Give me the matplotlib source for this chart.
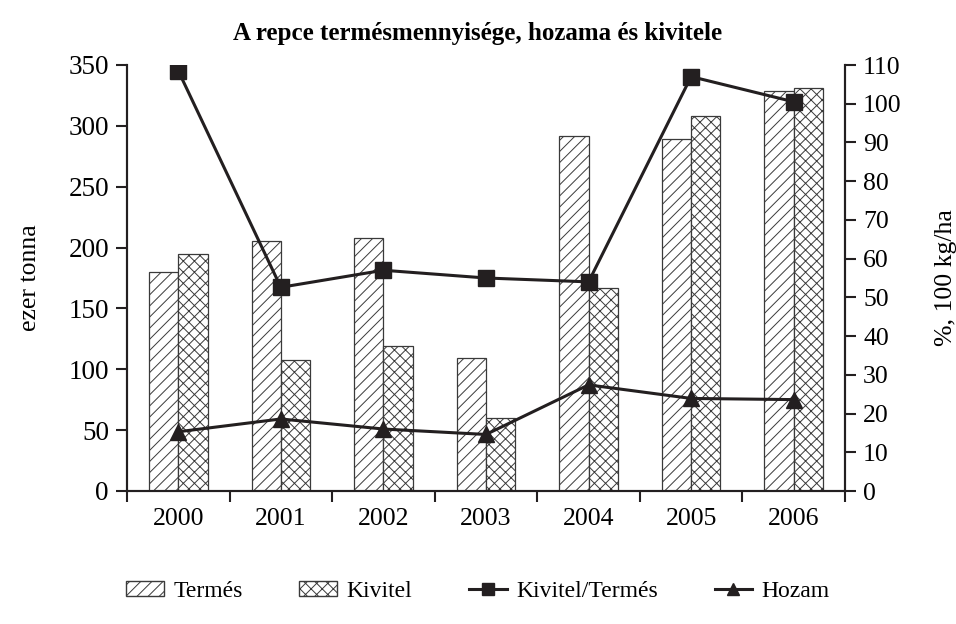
import matplotlib
matplotlib.use("Agg")
import matplotlib.pyplot as plt
from matplotlib.patches import Patch
from matplotlib.lines import Line2D
import numpy as np

years = ["2000", "2001", "2002", "2003", "2004", "2005", "2006"]
termes = [180, 205, 208, 109, 292, 289, 329]
kivitel = [195, 108, 119, 60, 167, 308, 331]
kivitel_termes = [108.5, 52.6, 57.0, 55.0, 54.0, 107.0, 100.5]
hozam = [15.3, 18.6, 16.0, 14.6, 27.4, 23.9, 23.6]

plt.rcParams['font.family'] = ['Liberation Serif', 'DejaVu Serif']
plt.rcParams['hatch.linewidth'] = 0.7

ink = '#231f20'
fs = 18.5
fig = plt.figure(figsize=(9.56, 6.24), dpi=100)
ax = fig.add_axes([127/956, 1-491/624, (845-127)/956, (491-65)/624])
x = np.arange(len(years))
w = 0.285
ax.bar(x - w/2, termes, w, facecolor='white', edgecolor='#3a3a3a', hatch='///', linewidth=0.9)
ax.bar(x + w/2, kivitel, w, facecolor='white', edgecolor='#3a3a3a', hatch='xxx', linewidth=0.9)
ax.set_xlim(-0.5, len(years) - 0.5)
ax.set_ylim(0, 350)
ax.set_yticks(np.arange(0, 351, 50))
ax.set_xticks(np.arange(-0.5, len(years), 1.0))
ax.set_xticklabels([])
ax.set_xticks(x, minor=True)
ax.set_xticklabels(years, minor=True)
ax.tick_params(axis='x', which='major', length=8, width=1.5, color=ink, direction='out')
ax.tick_params(axis='x', which='minor', length=0, pad=12, labelsize=fs)
ax.tick_params(axis='y', length=8, width=1.5, color=ink, direction='out', labelsize=19.5, pad=5)
ax.spines['top'].set_visible(False)
for s in ['left', 'bottom', 'right']:
    ax.spines[s].set_linewidth(1.5)
    ax.spines[s].set_color(ink)
ax.set_ylabel('ezer tonna', fontsize=fs, labelpad=20)

ax2 = ax.twinx()
ax2.plot(x, kivitel_termes, color=ink, lw=2.2, marker='s', ms=11)
ax2.plot(x, hozam, color=ink, lw=2.2, marker='^', ms=11)
ax2.set_ylim(0, 110)
ax2.set_yticks(np.arange(0, 111, 10))
ax2.tick_params(axis='y', length=8, width=1.5, color=ink, direction='out', labelsize=fs, pad=5)
ax2.spines['top'].set_visible(False)
for s in ['left', 'bottom', 'right']:
    ax2.spines[s].set_linewidth(1.5)
    ax2.spines[s].set_color(ink)
ax2.set_ylabel('%, 100 kg/ha', fontsize=fs, labelpad=24)

fig.suptitle('A repce termésmennyisége, hozama és kivitele', fontsize=18, fontweight='bold', y=0.965)

handles = [
    Patch(facecolor='white', edgecolor='#3a3a3a', hatch='///', label='Termés'),
    Patch(facecolor='white', edgecolor='#3a3a3a', hatch='xxx', label='Kivitel'),
    Line2D([0], [0], color=ink, lw=2.2, marker='s', ms=9, label='Kivitel/Termés'),
    Line2D([0], [0], color=ink, lw=2.2, marker='^', ms=9, label='Hozam'),
]
fig.legend(handles=handles, loc='center', bbox_to_anchor=(0.5, 0.052), ncol=4, frameon=False,
           fontsize=17, columnspacing=2.4, handlelength=1.6, handletextpad=0.4, handleheight=0.6)

fig.savefig('out.png', dpi=100)
